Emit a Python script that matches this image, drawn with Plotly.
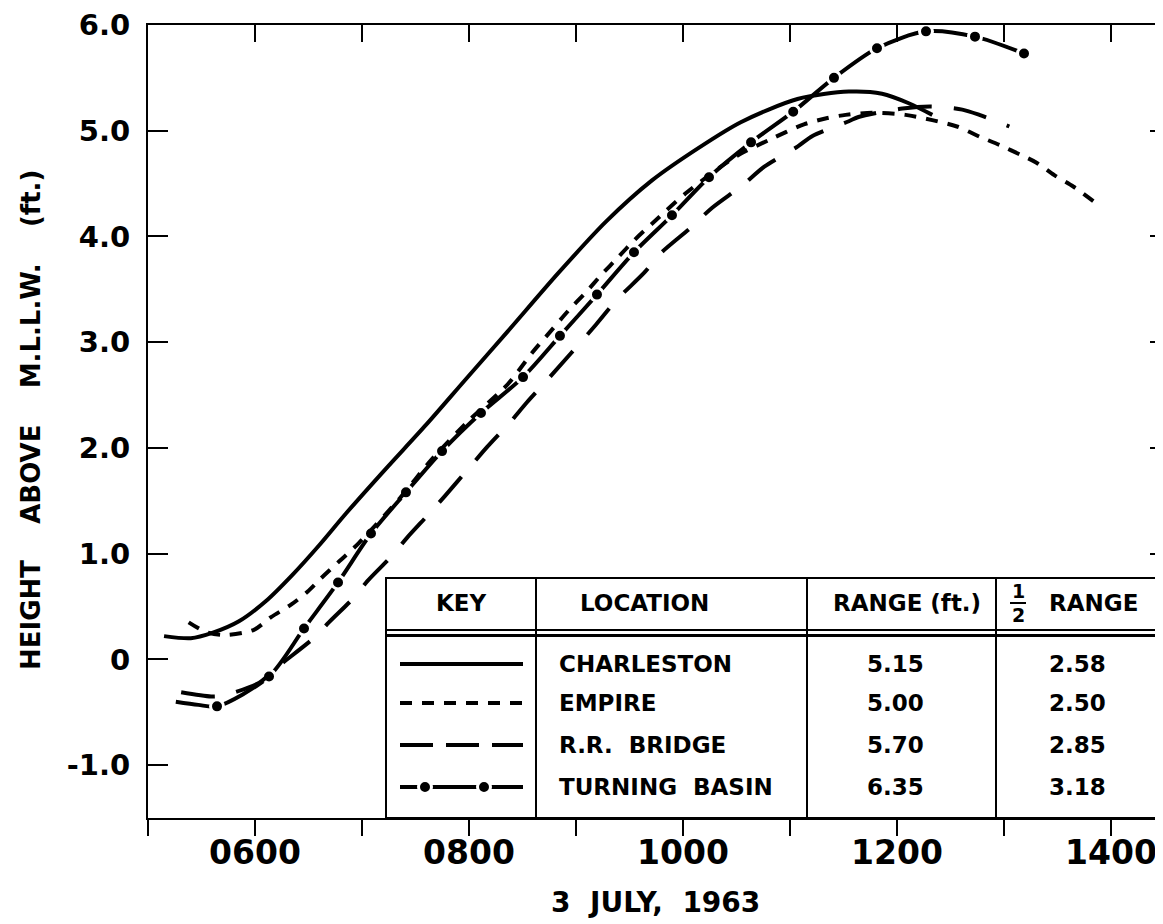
import plotly.graph_objects as go

# ---------------- data ----------------
HOUR_TICKS = [5, 6, 7, 8, 9, 10, 11, 12, 13, 14]
HOUR_LABELS = ["", "0600", "", "0800", "", "1000", "", "1200", "", "1400"]
Y_TICKS = [-1, 0, 1, 2, 3, 4, 5, 6]
Y_LABELS = ["-1.0", "0", "1.0", "2.0", "3.0", "4.0", "5.0", "6.0"]

charleston_t = [5.15, 5.40, 5.60, 5.85, 6.10, 6.35, 6.60, 6.85, 7.22, 7.60, 7.97, 8.36,
                8.84, 9.28, 9.71, 10.15, 10.54, 11.07, 11.55, 11.86, 12.11, 12.33]
charleston_h = [0.22, 0.20, 0.25, 0.36, 0.55, 0.80, 1.08, 1.38, 1.80, 2.22, 2.65, 3.10,
                3.66, 4.14, 4.53, 4.84, 5.08, 5.30, 5.37, 5.35, 5.26, 5.15]

empire_t = [5.38, 5.54, 5.71, 5.99, 6.15, 6.34, 6.49, 6.62, 6.79, 6.97, 7.35, 7.65, 8.00,
            8.36, 8.59, 8.76, 8.93, 9.09, 9.24, 9.39, 9.55, 9.72, 10.04, 10.50, 10.82,
            11.13, 11.35, 11.52, 11.77, 12.08, 12.33, 12.56, 12.78, 12.97, 13.16, 13.30,
            13.47, 13.65, 13.84]
empire_h = [0.35, 0.26, 0.23, 0.28, 0.40, 0.52, 0.64, 0.77, 0.93, 1.10, 1.52, 1.89, 2.26,
            2.60, 2.90, 3.10, 3.30, 3.47, 3.64, 3.80, 3.97, 4.13, 4.42, 4.76, 4.92,
            5.06, 5.12, 5.15, 5.17, 5.15, 5.10, 5.04, 4.94, 4.86, 4.77, 4.70,
            4.58, 4.47, 4.33]

rrbridge_t = [5.31, 5.59, 5.71, 6.04, 6.20, 6.57, 6.69, 6.93, 7.05, 7.28, 7.42, 7.62, 7.77,
              8.00, 8.17, 8.39, 8.54, 8.72, 9.19, 9.38, 9.64, 9.79, 10.08, 10.27, 10.55,
              10.76, 11.07, 11.21, 11.55, 11.64, 12.05, 12.32, 12.61, 12.77, 13.05]
rrbridge_h = [-0.31, -0.35, -0.34, -0.22, -0.08, 0.22, 0.35, 0.59, 0.74, 0.98, 1.15, 1.37, 1.54,
              1.81, 2.01, 2.25, 2.43, 2.63, 3.17, 3.40, 3.66, 3.84, 4.09, 4.27, 4.48,
              4.66, 4.85, 4.95, 5.09, 5.13, 5.21, 5.23, 5.20, 5.15, 5.04]

# turning basin: first two points are the lead-in of the curve, the rest are plotted readings (dots)
basin_t = [5.26, 5.47, 5.645, 6.131, 6.458, 6.776, 7.084, 7.411, 7.748, 8.112, 8.505, 8.85,
           9.196, 9.542, 9.897, 10.243, 10.636, 11.03, 11.411, 11.813, 12.271, 12.729, 13.187]
basin_h = [-0.40, -0.43, -0.444, -0.161, 0.293, 0.728, 1.19, 1.58, 1.97, 2.33, 2.67, 3.06,
           3.45, 3.85, 4.20, 4.56, 4.89, 5.18, 5.50, 5.78, 5.94, 5.89, 5.73]
BASIN_LEADIN = 2

locations = ["CHARLESTON", "EMPIRE", "R.R.\u00a0\u00a0BRIDGE", "TURNING\u00a0\u00a0BASIN"]
ranges_ft = ["5.15", "5.00", "5.70", "6.35"]
half_ranges = ["2.58", "2.50", "2.85", "3.18"]

# ---------------- geometry / style ----------------
PAGE_W, PAGE_H = 1163, 924
OFF = 8                      # default body margin of the html page
PL, PR, PT, PB = 148, 1163, 25, 818   # plot area in page pixels
PW, PH = PR - PL, PB - PT
FIG_W, FIG_H = PAGE_W - OFF, PAGE_H - OFF
ML, MT = PL - OFF, PT - OFF
MR = FIG_W - (PR - OFF)
MB = FIG_H - (PB - OFF)
FONT = "DejaVu Sans"
BLACK = "#000000"


def px(x):
    return (x - PL) / PW


def py(y):
    return (PB - y) / PH


fig = go.Figure()

LW = 4
# Turning basin first so its dot halos only cut its own line
fig.add_trace(go.Scatter(x=basin_t, y=basin_h, mode="lines",
                         line=dict(color=BLACK, width=LW, shape="spline", smoothing=0.8),
                         hoverinfo="skip", showlegend=False))
fig.add_trace(go.Scatter(x=basin_t[BASIN_LEADIN:], y=basin_h[BASIN_LEADIN:], mode="markers",
                         marker=dict(color=BLACK, size=13, line=dict(color="white", width=3)),
                         hoverinfo="skip", showlegend=False))
fig.add_trace(go.Scatter(x=charleston_t, y=charleston_h, mode="lines",
                         line=dict(color=BLACK, width=LW, shape="spline", smoothing=0.8),
                         hoverinfo="skip", showlegend=False))
fig.add_trace(go.Scatter(x=empire_t, y=empire_h, mode="lines",
                         line=dict(color=BLACK, width=LW, dash="12px,10px", shape="spline", smoothing=0.8),
                         hoverinfo="skip", showlegend=False))
fig.add_trace(go.Scatter(x=rrbridge_t, y=rrbridge_h, mode="lines",
                         line=dict(color=BLACK, width=LW, dash="34px,22px", shape="spline", smoothing=0.8),
                         hoverinfo="skip", showlegend=False))

# invisible trace so the top/right tick axes are drawn
fig.add_trace(go.Scatter(x=[HOUR_TICKS[0]], y=[Y_TICKS[0]], xaxis="x2", yaxis="y2",
                         mode="markers", marker=dict(opacity=0), hoverinfo="skip", showlegend=False))

# ---------------- table (key) ----------------
TAB_L, TAB_T, TAB_B = 386, 578, 818
COLS = [536, 807, 996]
HDR_Y = 603
ROW_Y = [664, 703, 745, 787]
KEY_X0, KEY_X1 = 400, 523

shapes = []
shapes.append(dict(type="rect", xref="paper", yref="paper", x0=px(TAB_L), x1=1.05,
                   y0=py(TAB_B), y1=py(TAB_T), fillcolor="white",
                   line=dict(color=BLACK, width=2), layer="below"))
for cx in COLS:
    shapes.append(dict(type="line", xref="paper", yref="paper", x0=px(cx), x1=px(cx),
                       y0=py(TAB_B), y1=py(TAB_T), line=dict(color=BLACK, width=2), layer="below"))
shapes.append(dict(type="line", xref="paper", yref="paper", x0=px(TAB_L), x1=1.05,
                   y0=py(630), y1=py(630), line=dict(color=BLACK, width=2), layer="below"))
shapes.append(dict(type="line", xref="paper", yref="paper", x0=px(TAB_L), x1=1.05,
                   y0=py(635.5), y1=py(635.5), line=dict(color=BLACK, width=3), layer="below"))
# fraction bar of 1/2
shapes.append(dict(type="line", xref="paper", yref="paper", x0=px(1010), x1=px(1026),
                   y0=py(603), y1=py(603), line=dict(color=BLACK, width=2), layer="below"))

# key samples drawn on an overlay axis whose units are page pixels
key_dash = ["solid", "12px,10px", "33px,13px", "solid"]
for i, d in enumerate(key_dash):
    fig.add_trace(go.Scatter(x=[KEY_X0, KEY_X1], y=[ROW_Y[i], ROW_Y[i]], xaxis="x3", yaxis="y3",
                             mode="lines", line=dict(color=BLACK, width=LW, dash=d),
                             hoverinfo="skip", showlegend=False))
fig.add_trace(go.Scatter(x=[425, 484], y=[ROW_Y[3], ROW_Y[3]], xaxis="x3", yaxis="y3",
                         mode="markers",
                         marker=dict(color=BLACK, size=13, line=dict(color="white", width=3)),
                         hoverinfo="skip", showlegend=False))

TF = dict(family=FONT, size=23, color=BLACK, weight="bold")
ann = []


def text(x, y, s, anchor="center", size=None):
    f = dict(TF)
    if size:
        f["size"] = size
    ann.append(dict(xref="paper", yref="paper", x=px(x), y=py(y), text=s, showarrow=False,
                    xanchor=anchor, yanchor="middle", font=f))


text(461, HDR_Y, "KEY")
text(578, HDR_Y, "LOCATION", "left")
text(907, HDR_Y, "RANGE (ft.)")
text(1018, 591, "1", size=19)
text(1018, 615, "2", size=19)
text(1047, HDR_Y, "RANGE", "left")
for i in range(4):
    text(557, ROW_Y[i], locations[i], "left")
    text(895, ROW_Y[i], ranges_ft[i])
    text(1077, ROW_Y[i], half_ranges[i])

# axis titles
ann.append(dict(xref="paper", yref="paper", x=px(655), y=py(902), xanchor="center", yanchor="middle",
                text="3\u00a0\u00a0JULY,\u00a0\u00a01963", showarrow=False,
                font=dict(family=FONT, size=28, color=BLACK, weight="bold")))
ann.append(dict(xref="paper", yref="paper", x=px(31), y=py(420), xanchor="center", yanchor="middle",
                text="HEIGHT\u00a0\u00a0\u00a0\u00a0ABOVE\u00a0\u00a0\u00a0\u00a0M.L.L.W.\u00a0\u00a0\u00a0\u00a0(ft.)",
                textangle=-90, showarrow=False,
                font=dict(family=FONT, size=26, color=BLACK, weight="bold")))

XR = [5.0, 5.0 + PW / 107.0]
YR = [-1.5, 6.0]

fig.update_layout(
    width=FIG_W, height=FIG_H, margin=dict(l=ML, r=MR, t=MT, b=MB, pad=0),
    paper_bgcolor="white", plot_bgcolor="white", showlegend=False,
    shapes=shapes, annotations=ann,
    xaxis=dict(range=XR, tickvals=HOUR_TICKS, ticktext=HOUR_LABELS, ticks="outside", ticklen=16,
               tickwidth=2, tickcolor=BLACK, showline=True, linewidth=2, linecolor=BLACK,
               showgrid=False, zeroline=False, ticklabelstandoff=-12,
               tickfont=dict(family=FONT, size=33, color=BLACK, weight="bold")),
    yaxis=dict(range=YR, tickvals=Y_TICKS, ticktext=Y_LABELS, ticks="inside", ticklen=20,
               tickwidth=2, tickcolor=BLACK, showline=True, linewidth=2, linecolor=BLACK,
               showgrid=False, zeroline=False, ticklabelstandoff=10,
               tickfont=dict(family=FONT, size=29, color=BLACK, weight="bold")),
    xaxis2=dict(range=XR, overlaying="x", anchor="y2", side="top", tickvals=HOUR_TICKS,
                showticklabels=False, ticks="inside", ticklen=17, tickwidth=2, tickcolor=BLACK,
                showline=True, linewidth=2, linecolor=BLACK, showgrid=False, zeroline=False),
    yaxis2=dict(range=YR, overlaying="y", anchor="x2", side="right", tickvals=Y_TICKS[2:],
                showticklabels=False, ticks="inside", ticklen=13, tickwidth=2, tickcolor=BLACK,
                showline=False, showgrid=False, zeroline=False),
    xaxis3=dict(range=[PL, PR], overlaying="x", anchor="y3", visible=False),
    yaxis3=dict(range=[PB, PT], overlaying="y", anchor="x3", visible=False),
)

fig.write_html("out.html")
